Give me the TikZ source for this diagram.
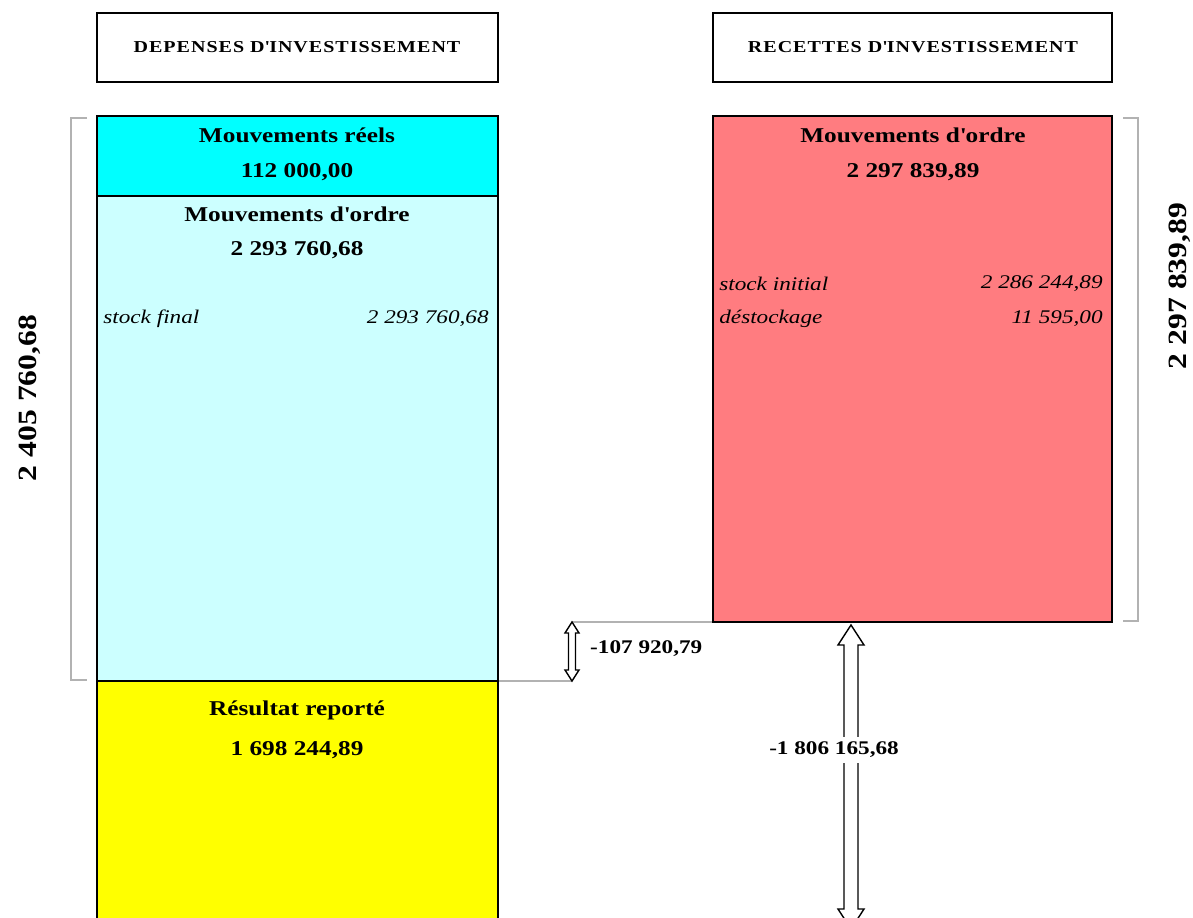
\documentclass[tikz,border=0pt]{standalone}
\usepackage{fontspec}
\setmainfont{Liberation Serif}[FakeStretch=1.2]
\usetikzlibrary{calc}

\definecolor{reelcyan}{HTML}{00FFFF}
\definecolor{ordrecyan}{HTML}{CCFFFF}
\definecolor{ordrered}{HTML}{FF7C80}
\definecolor{resyellow}{HTML}{FFFF00}

\tikzset{
  box/.style={draw=black, line width=1.1pt},
  title/.style={font=\fontsize{12}{14}\selectfont\bfseries},
  head/.style={font=\fontsize{9.5}{11}\selectfont\bfseries\addfontfeature{LetterSpace=6}},
  detail/.style={font=\fontsize{11}{13}\selectfont\itshape, inner sep=0pt},
  delta/.style={font=\fontsize{11}{13}\selectfont\bfseries},
  total/.style={font=\fontsize{15}{17}\selectfont\bfseries, rotate=90},
  brace/.style={draw=gray!60, line width=1.5pt},
  link/.style={draw=gray!60, line width=1pt},
  hollow/.style={draw=black, line width=0.8pt, fill=white},
}

% tip top, tip bottom, shaft half width, head half width, head length
\newcommand{\hollowarrow}[5]{%
  \draw[hollow] (#1) -- ($(#1)+(#4,#5)$) -- ($(#1)+(#3,#5)$) -- ($(#2)+(#3,-#5)$)
    -- ($(#2)+(#4,-#5)$) -- (#2) -- ($(#2)+(-#4,-#5)$) -- ($(#2)+(-#3,-#5)$)
    -- ($(#1)+(-#3,#5)$) -- ($(#1)+(-#4,#5)$) -- cycle;}
\newcommand{\apos}{\textquotesingle}

\begin{document}
\begin{tikzpicture}[x=0.02cm,y=-0.02cm]
\useasboundingbox (0,0) rectangle (1193,918);

\coordinate (ordreBR) at (498,681);
\coordinate (gapBot)  at (572,681);
\coordinate (gapTop)  at (572,622);
\coordinate (recBL)   at (713,622);
\coordinate (bigTop)  at (851,625);
\coordinate (bigBot)  at (851,929);

\draw[link] (ordreBR) -- (gapBot); %low level
\draw[link] (gapTop) -- (recBL); %high level

\draw[box] (97,13) rectangle (498,82); %header left
\draw[box] (713,13) rectangle (1112,82); %header right
\node[head] (hdep) at (297,47) {DEPENSES D\apos INVESTISSEMENT};
\node[head] (hrec) at (913,47) {RECETTES D\apos INVESTISSEMENT};

\draw[box,fill=resyellow] (97,681) rectangle (498,930); %resultat
\draw[box,fill=ordrecyan] (97,196) rectangle (498,681); %ordre depenses
\draw[box,fill=reelcyan] (97,116) rectangle (498,196); %reels
\draw[box,fill=ordrered] (713,116) rectangle (1112,622); %ordre recettes

\draw[brace] (87,118) -- (71,118) -- (71,680) -- (87,680); %left total
\draw[brace] (1123,118) -- (1138,118) -- (1138,621) -- (1123,621); %right total

\node[title] (reel)   at (297,135) {Mouvements réels};
\node[title] (reelv)  at (297,172) {112 000,00};
\node[title] (ordd)   at (297,214) {Mouvements d\apos ordre};
\node[title] (orddv)  at (297,250) {2 293 760,68};
\node[detail,anchor=west] (sfin)  at (103,319) {stock final};
\node[detail,anchor=east] (sfinv) at (489,319) {2 293 760,68};

\node[title] (ordr)   at (913,135) {Mouvements d\apos ordre};
\node[title] (ordrv)  at (913,172) {2 297 839,89};
\node[detail,anchor=west] (sini)  at (719,284) {stock initial};
\node[detail,anchor=east] (siniv) at (1103,284) {2 286 244,89};
\node[detail,anchor=west] (dest)  at (719,319) {déstockage};
\node[detail,anchor=east] (destv) at (1103,319) {11 595,00};

\node[title] (res)    at (297,710) {Résultat reporté};
\node[title] (resv)   at (297,750) {1 698 244,89};

\node[total] (totdep) at (30,398) {2 405 760,68};
\node[total] (totrec) at (1180,286) {2 297 839,89};

\hollowarrow{gapTop}{gapBot}{3.5}{7}{11}
\node[delta,anchor=west] (ecart) at (584,649) {-107 920,79};

\hollowarrow{bigTop}{bigBot}{7}{13}{20}
\node[delta,fill=white,inner sep=3pt] (solde) at (834,750) {-1 806 165,68};
\end{tikzpicture}
\end{document}
